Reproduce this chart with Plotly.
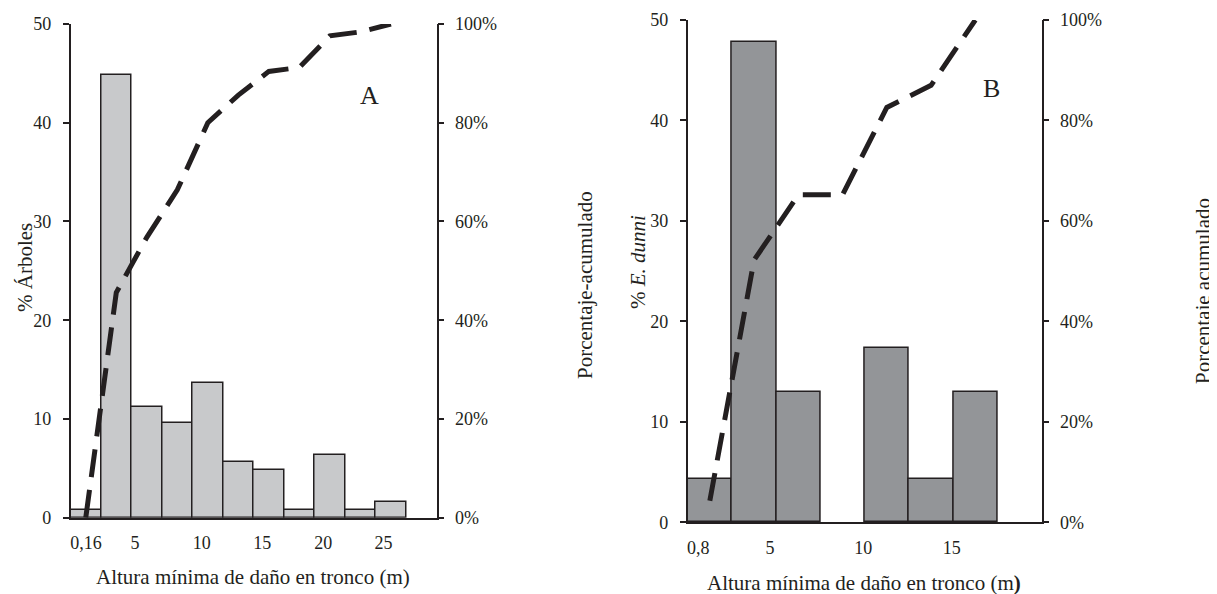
import plotly.graph_objects as go

# ---------------- data ----------------
# Panel A: % of trees per height bin (bin index 1..11), cumulative %
bins_A = [1, 2, 3, 4, 5, 6, 7, 8, 9, 10, 11]
pct_A = [0.8, 44.8, 11.2, 9.6, 13.6, 5.6, 4.8, 0.8, 6.4, 0.8, 1.6]
cum_A = [0.0, 45.6, 56.8, 66.4, 80.0, 85.6, 90.4, 91.2, 97.6, 98.4, 100.0]
tickpos_A = [0.51, 2.11, 4.30, 6.28, 8.28, 10.26]
ticktext_A = ["0,16", "5", "10", "15", "20", "25"]

# Panel B: % E. dunni per height bin (bin index 1..7), cumulative %
bins_B = [1, 2, 3, 4, 5, 6, 7]
pct_B = [4.3, 47.8, 13.0, 0.0, 17.4, 4.3, 13.0]
cum_B = [4.3, 52.2, 65.2, 65.2, 82.6, 87.0, 100.0]
tickpos_B = [0.24, 1.86, 3.97, 5.97]
ticktext_B = ["0,8", "5", "10", "15"]

y_ticks = [0, 10, 20, 30, 40, 50]
cum_ticks = [0, 20, 40, 60, 80, 100]
cum_labels = ["0%", "20%", "40%", "60%", "80%", "100%"]

# ---------------- layout helpers ----------------
# page body has an 8px default margin, so the figure is drawn 8px in
OFF = 8
W, H = 1217 - OFF, 594 - OFF
FONT = "Liberation Serif"
INK = "#231f20"


def px(x):
    return (x - OFF) / W


def py(y):
    return 1 - (y - OFF) / H


fig = go.Figure()

fig.add_trace(go.Bar(
    x=[b - 0.5 for b in bins_A], y=pct_A, width=1,
    marker=dict(color="#c8c9cb", line=dict(color=INK, width=1.5)),
    xaxis="x", yaxis="y", showlegend=False))
fig.add_trace(go.Scatter(
    x=[b - 0.5 for b in bins_A], y=cum_A, mode="lines",
    line=dict(color=INK, width=5, dash="28px,13px"),
    xaxis="x", yaxis="y2", showlegend=False))

fig.add_trace(go.Bar(
    x=[b - 0.5 for b in bins_B], y=pct_B, width=1,
    marker=dict(color="#939598",
                line=dict(color=INK, width=[1.5 if v > 0 else 0 for v in pct_B])),
    xaxis="x2", yaxis="y3", showlegend=False))
fig.add_trace(go.Scatter(
    x=[b - 0.5 for b in bins_B], y=cum_B, mode="lines",
    line=dict(color=INK, width=5, dash="28px,13px"),
    xaxis="x2", yaxis="y4", showlegend=False))

tickfont = dict(family=FONT, size=18, color=INK)
axline = dict(showline=True, linecolor=INK, linewidth=1.5, showgrid=False,
              zeroline=False, tickfont=tickfont, automargin=False)
yt = dict(ticks="outside", ticklen=6, tickwidth=1.5, tickcolor=INK)

fig.update_layout(
    width=W, height=H,
    autosize=False,
    margin=dict(l=0, r=0, t=0, b=0, pad=0),
    paper_bgcolor="white", plot_bgcolor="white",
    bargap=0,
    font=dict(family=FONT, color=INK),
    xaxis=dict(domain=[px(70.5), px(436.7)], range=[0, 12], anchor="y",
               tickmode="array", tickvals=tickpos_A, ticktext=ticktext_A,
               ticks="", ticklabelstandoff=8, **axline),
    yaxis=dict(domain=[py(517.7), py(24)], range=[0, 50], anchor="x",
               tickmode="array", tickvals=y_ticks,
               ticklabelstandoff=8, **yt, **axline),
    yaxis2=dict(overlaying="y", side="right", anchor="x", range=[0, 100],
                tickmode="array", tickvals=cum_ticks, ticktext=cum_labels,
                ticklabelstandoff=7, **yt, **axline),
    xaxis2=dict(domain=[px(687.7), px(1041.7)], range=[0, 8], anchor="y3",
                tickmode="array", tickvals=tickpos_B, ticktext=ticktext_B,
                ticks="", ticklabelstandoff=8, **axline),
    yaxis3=dict(domain=[py(522.3), py(20)], range=[0, 50], anchor="x2",
                tickmode="array", tickvals=y_ticks,
                ticklabelstandoff=8, **yt, **axline),
    yaxis4=dict(overlaying="y3", side="right", anchor="x2", range=[0, 100],
                tickmode="array", tickvals=cum_ticks, ticktext=cum_labels,
                ticklabelstandoff=7, **yt, **axline),
)


def note(text, x, y, angle=0, size=21):
    fig.add_annotation(text=text, x=px(x), y=py(y), xref="paper", yref="paper",
                       xanchor="center", yanchor="middle", showarrow=False,
                       textangle=angle, font=dict(family=FONT, size=size, color=INK))


note("% Árboles", 25, 268, -90)
note("Porcentaje-acumulado", 585, 285, -90)
note("Altura mínima de daño en tronco (m)", 252.5, 577)
note("A", 369, 95, size=26)

note("% <i>E. dunni</i>", 638, 262, -90)
note("Porcentaje acumulado", 1203, 291, -90)
note("Altura mínima de daño en tronco (m<b>)</b>", 864, 583)
note("B", 991.7, 89, size=26)

fig.write_html("out.html")
